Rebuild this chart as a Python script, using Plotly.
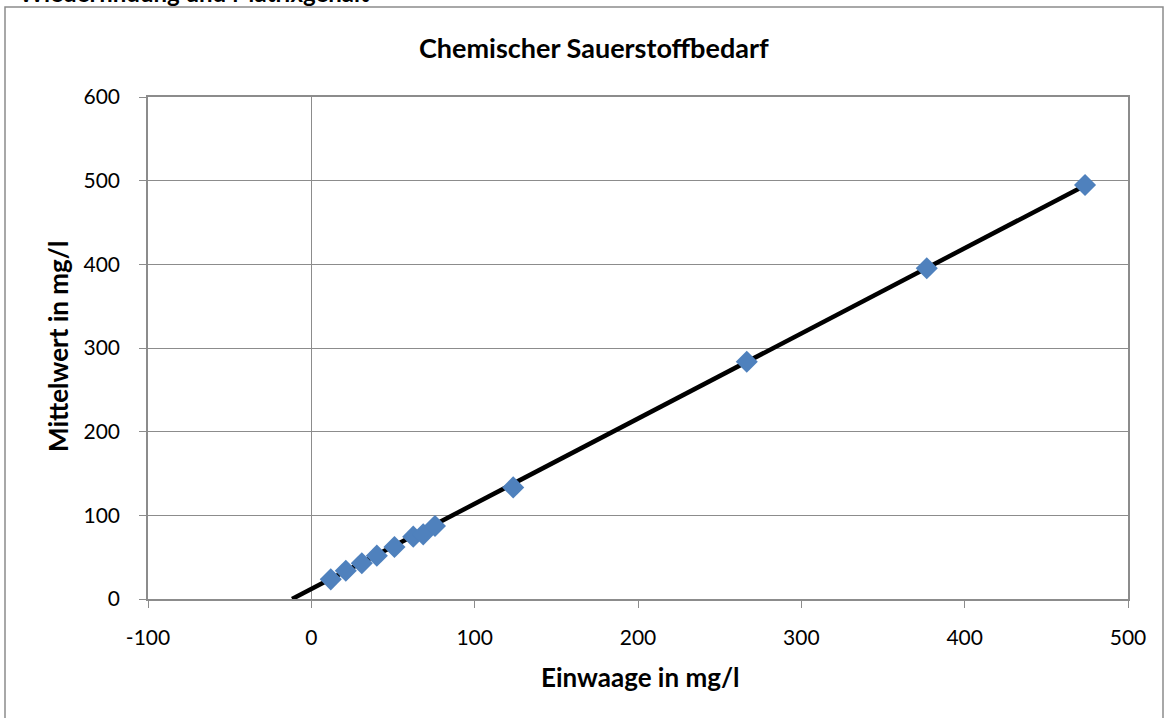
import plotly.graph_objects as go

# Data
einwaage = [11.9, 21.1, 30.9, 40.1, 50.9, 62.4, 68.5, 75.7, 123.6, 266.6, 376.8, 473.7]
mittelwert = [23.5, 33.8, 42.7, 51.8, 62.2, 74.5, 77.3, 87.3, 133.4, 283.6, 395.3, 494.8]
trend_x = [-11.8, 473.7]
trend_y = [0.0, 494.3]
x_ticks = [-100, 0, 100, 200, 300, 400, 500]
y_ticks = [0, 100, 200, 300, 400, 500, 600]

W, H = 1165, 718
L, R, T, B = 148, 37, 97, 119
pw, ph = W - L - R, H - T - B

def px_x(p):
    return (p - L) / pw

def px_y(p):
    return (H - B - p) / ph

FONT = "Lato, 'Open Sans', sans-serif"
GRID = "#8c8c8c"

fig = go.Figure()
fig.add_trace(go.Scatter(x=trend_x, y=trend_y, mode="lines",
                         line=dict(color="black", width=4.5), hoverinfo="skip",
                         showlegend=False))
fig.add_trace(go.Scatter(x=einwaage, y=mittelwert, mode="markers",
                         marker=dict(symbol="diamond", size=17, color="#4F81BD",
                                     line=dict(width=0)),
                         showlegend=False))

fig.update_layout(
    width=W, height=H,
    margin=dict(l=L, r=R, t=T, b=B),
    paper_bgcolor="white", plot_bgcolor="white",
    font=dict(family=FONT, color="black", size=21),
    xaxis=dict(range=[-100, 500], tickvals=x_ticks,
               ticktext=[str(v) for v in x_ticks], showgrid=False,
               zeroline=True, zerolinecolor=GRID, zerolinewidth=1.3,
               showline=True, mirror=True, linecolor=GRID, linewidth=1.5,
               ticks="outside", ticklen=7, tickcolor=GRID, tickwidth=1.3,
               ticklabelstandoff=12, tickfont=dict(size=21)),
    yaxis=dict(range=[0, 600], tickvals=y_ticks,
               ticktext=[str(v) for v in y_ticks], showgrid=True,
               gridcolor=GRID, gridwidth=1.3, zeroline=False,
               showline=True, mirror=True, linecolor=GRID, linewidth=1.5,
               ticks="outside", ticklen=7, tickcolor=GRID, tickwidth=1.3,
               ticklabelstandoff=15, tickfont=dict(size=21)),
    shapes=[dict(type="rect", xref="paper", yref="paper",
                 x0=px_x(5), x1=px_x(1163), y0=px_y(740), y1=px_y(7),
                 line=dict(color="#8c8c8c", width=1.5), fillcolor="rgba(0,0,0,0)",
                 layer="below")],
    annotations=[
        dict(text="<b>Chemischer Sauerstoffbedarf</b>", xref="paper", yref="paper",
             x=px_x(594), y=px_y(47), showarrow=False, font=dict(size=27),
             xanchor="center", yanchor="middle"),
        dict(text="<b>Einwaage in mg/l</b>", xref="paper", yref="paper",
             x=px_x(640), y=px_y(677), showarrow=False, font=dict(size=26),
             xanchor="center", yanchor="middle"),
        dict(text="<b>Mittelwert in mg/l</b>", xref="paper", yref="paper",
             x=px_x(58), y=px_y(347), showarrow=False, font=dict(size=26),
             textangle=-90, xanchor="center", yanchor="middle"),
        dict(text="<b>Wiederfindung und Matrixgehalt</b>", xref="paper", yref="paper",
             x=px_x(17), y=px_y(-7), showarrow=False, font=dict(size=24),
             xanchor="left", yanchor="middle"),
    ],
)

fig.write_html("out.html", config={"displayModeBar": False},
               post_script="document.body.style.margin='0';document.body.style.overflow='hidden';")
